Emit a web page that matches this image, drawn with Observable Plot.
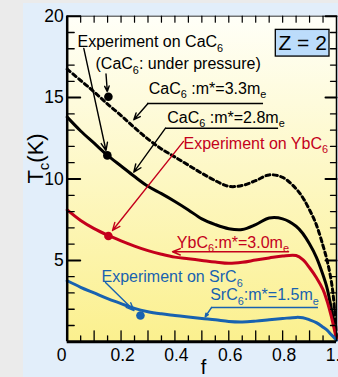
<!DOCTYPE html>
<html>
<head>
<meta charset="utf-8">
<script src="https://cdn.jsdelivr.net/npm/d3@7"></script>
<script src="https://cdn.jsdelivr.net/npm/@observablehq/plot@0.6"></script>
<style>
  html, body { margin: 0; padding: 0; overflow: hidden; background: #ebebeb; }
  #wrap { position: relative; width: 338px; height: 377px; }
  #panel { position: absolute; left: 23px; top: 3px; right: 0; bottom: 0; background: #e2eefa; }
  #chart { position: absolute; left: 0; top: 0; }
</style>
</head>
<body>
<div id="wrap"><div id="panel"></div><div id="chart"></div></div>
<script>
// Superconducting Tc versus f (fraction), Z = 2, for three intercalated graphites.
const f = [0, 0.05, 0.1, 0.15, 0.2, 0.25, 0.3, 0.35, 0.4, 0.45, 0.5, 0.55, 0.6, 0.65,
           0.7, 0.75, 0.8, 0.85, 0.875, 0.9, 0.925, 0.95, 0.965, 0.98, 0.99, 1];
const tcCaC6m33 = [16.75, 16.05, 15.35, 14.6, 13.9, 13.15, 12.45, 11.85, 11.35, 10.85, 10.35, 9.9, 9.55, 9.6,
                   9.9, 10.25, 10.1, 9.4, 8.85, 8.1, 7.2, 5.9, 5.0, 3.8, 2.5, 0.2];
const tcCaC6m28 = [13.8, 12.95, 12.2, 11.45, 10.8, 10.15, 9.55, 9.1, 8.62, 8.1, 7.55, 7.2, 6.95, 6.9,
                   7.2, 7.6, 7.55, 7.1, 6.65, 6.0, 5.2, 4.1, 3.3, 2.1, 1.2, 0.2];
const tcYbC6m30 = [8.1, 7.45, 6.95, 6.55, 6.2, 5.88, 5.6, 5.38, 5.2, 5.1, 5.0, 4.9, 4.82, 4.88,
                   5.02, 5.15, 5.27, 5.3, 5.05, 4.55, 3.95, 3.2, 2.5, 1.6, 0.9, 0.15];
const tcSrC6m15 = [3.75, 3.35, 3.0, 2.65, 2.35, 2.05, 1.85, 1.72, 1.62, 1.52, 1.43, 1.35, 1.25, 1.22,
                   1.27, 1.35, 1.43, 1.5, 1.48, 1.35, 1.18, 0.9, 0.72, 0.45, 0.28, 0.1];

// Measured points
const expCompound = ["CaC6 (pressure)", "CaC6", "YbC6", "SrC6"];
const expF = [0.153, 0.149, 0.153, 0.272];
const expTc = [15.05, 11.45, 6.5, 1.62];

const xTickValues = [0, 0.2, 0.4, 0.6, 0.8, 1];
const xTickLabels = ["0", "0.2", "0.4", "0.6", "0.8", "1.0"];
const yTickValues = [5, 10, 15, 20];
const yTickLabels = ["5", "10", "15", "20"];

const BLACK = "#000000", RED = "#c4001c", BLUE = "#1862b0";
const FONT = "'Liberation Sans', Arial, Helvetica, sans-serif";

const rows = tc => f.map((x, i) => ({f: x, tc: tc[i]}));
const expRows = expF.map((x, i) => ({compound: expCompound[i], f: x, tc: expTc[i]}));
const expColor = {"CaC6 (pressure)": BLACK, "CaC6": BLACK, "YbC6": RED, "SrC6": BLUE};

// Inward tick marks drawn as short vectors
const tickShape = {draw(ctx, l) { ctx.moveTo(0, 0); ctx.lineTo(0, -l); }};
const ticks = (values, o) => Plot.vector(values, {anchor: "start", shape: tickShape, stroke: BLACK, ...o});
const range = (a, b, s) => d3.range(Math.round((b - a) / s) + 1).map(i => +(a + i * s).toFixed(4));
const yMinor = range(0, 20, 1).filter(v => v % 5 !== 0);
const xAll = range(0, 1, 0.05).filter(v => v > 0 && v < 1);
const xMajor = xAll.filter(v => Math.abs(v * 10 - Math.round(v * 10)) < 1e-6);
const xMinor = xAll.filter(v => !xMajor.includes(v));

// Annotation layout (f, Tc coordinates)
const labels = [
  {text: "Experiment on CaC_6", f: 0.0382, tc: 18.08, color: BLACK},
  {text: "(CaC_6: under pressure)", f: 0.1051, tc: 16.73, color: BLACK},
  {text: "CaC_6 :m*=3.3m_e", f: 0.303, tc: 15.25, color: BLACK},
  {text: "CaC_6 :m*=2.8m_e", f: 0.3713, tc: 13.47, color: BLACK},
  {text: "Experiment on YbC_6", f: 0.4319, tc: 11.87, color: RED},
  {text: "YbC_6:m*=3.0m_e", f: 0.407, tc: 5.79, color: RED},
  {text: "Experiment on SrC_6", f: 0.1274, tc: 3.685, color: BLUE},
  {text: "SrC_6:m*=1.5m_e", f: 0.531, tc: 2.555, color: BLUE}
];
const underlines = [
  {f1: 0.298, f2: 0.729, tc: 14.64, color: BLACK},
  {f1: 0.365, f2: 0.785, tc: 13.12, color: BLACK},
  {f1: 0.536, f2: 0.933, tc: 2.107, color: BLUE}
];
const pointers = [
  {f1: 0.300, tc1: 14.64, f2: 0.2473, tc2: 13.64, color: BLACK},
  {f1: 0.365, tc1: 13.12, f2: 0.2473, tc2: 10.42, color: BLACK},
  {f1: 0.0616, tc1: 18.02, f2: 0.144, tc2: 11.75, color: BLACK},
  {f1: 0.1441, tc1: 16.45, f2: 0.149, tc2: 15.37, color: BLACK},
  {f1: 0.4319, tc1: 12.31, f2: 0.1682, tc2: 6.84, color: RED},
  {f1: 0.822, tc1: 5.53, f2: 0.391, tc2: 5.53, color: RED},
  {f1: 0.1422, tc1: 3.64, f2: 0.248, tc2: 1.92, color: BLUE},
  {f1: 0.536, tc1: 2.107, f2: 0.5124, tc2: 1.536, color: BLUE}
];
const zBox = {f1: 0.7746, f2: 0.974, tc1: 17.52, tc2: 19.16, text: "Z = 2"};

const plot = Plot.plot({
  width: 338,
  height: 377,
  marginLeft: 66.7,
  marginRight: 2,
  marginTop: 15.7,
  marginBottom: 35.7,
  style: {fontFamily: FONT, background: "transparent", overflow: "hidden"},
  x: {domain: [0, 1], axis: null},
  y: {domain: [0, 20], axis: null},
  marks: [
    Plot.frame({fill: "#fffbd0", stroke: null}),

    // curves
    Plot.line(rows(tcCaC6m33), {x: "f", y: "tc", curve: "catmull-rom", stroke: BLACK, strokeWidth: 3, strokeDasharray: "4,3.5"}),
    Plot.line(rows(tcCaC6m28), {x: "f", y: "tc", curve: "catmull-rom", stroke: BLACK, strokeWidth: 3}),
    Plot.line(rows(tcYbC6m30), {x: "f", y: "tc", curve: "catmull-rom", stroke: RED, strokeWidth: 3}),
    Plot.line(rows(tcSrC6m15), {x: "f", y: "tc", curve: "catmull-rom", stroke: BLUE, strokeWidth: 3}),

    // experiments
    Plot.dot(expRows, {x: "f", y: "tc", r: 4.3, fill: d => expColor[d.compound], stroke: null}),

    // annotations
    Plot.ruleY(underlines, {x1: "f1", x2: "f2", y: "tc", stroke: "color", strokeWidth: 1.6}),
    Plot.arrow(pointers, {x1: "f1", y1: "tc1", x2: "f2", y2: "tc2", stroke: "color", strokeWidth: 1.4, headLength: 9, headAngle: 45}),
    Plot.text(labels, {x: "f", y: "tc", text: "text", fill: "color", textAnchor: "start", lineAnchor: "bottom", fontSize: 16}),
    Plot.rect([zBox], {x1: "f1", x2: "f2", y1: "tc1", y2: "tc2", fill: "#bcdcfb", stroke: BLACK, strokeWidth: 1.3}),
    Plot.text([zBox], {x: d => (d.f1 + d.f2) / 2, y: d => (d.tc1 + d.tc2) / 2, text: "text", fontSize: 21, fill: BLACK}),

    // frame spines
    Plot.ruleY([20], {stroke: "#333", strokeWidth: 1}),
    Plot.ruleX([1], {stroke: BLACK, strokeWidth: 1.5}),
    Plot.ruleX([0], {stroke: BLACK, strokeWidth: 2.5}),
    Plot.ruleY([0], {stroke: BLACK, strokeWidth: 3}),

    // ticks
    ticks(yMinor, {x: 0, y: d => d, rotate: 90, length: 7, strokeWidth: 1.3}),
    ticks(yTickValues, {x: 0, y: d => d, rotate: 90, length: 13, strokeWidth: 2}),
    ticks(yMinor, {x: 1, y: d => d, rotate: -90, length: 6, strokeWidth: 1.3}),
    ticks(yTickValues, {x: 1, y: d => d, rotate: -90, length: 11, strokeWidth: 2}),
    ticks(xMajor, {x: d => d, y: 0, rotate: 0, length: 11, strokeWidth: 1.3}),
    ticks(xMinor, {x: d => d, y: 0, rotate: 0, length: 6, strokeWidth: 1.3}),
    ticks(xAll, {x: d => d, y: 20, rotate: 180, length: 6, strokeWidth: 1.2}),

    // tick labels
    Plot.text(yTickValues, {y: d => d, frameAnchor: "left", dx: -3.5, textAnchor: "end", lineAnchor: "middle", text: (d, i) => yTickLabels[i], fontSize: 17.5}),
    Plot.text(xTickValues.slice(1), {x: d => d, frameAnchor: "bottom", textAnchor: "middle", lineAnchor: "bottom", dx: 1.5, dy: 19.5, text: (d, i) => xTickLabels[i + 1], fontSize: 17.5}),
    Plot.text(xTickValues.slice(0, 1), {x: d => d, frameAnchor: "bottom", textAnchor: "middle", lineAnchor: "bottom", dx: -5.7, dy: 19.5, text: (d, i) => xTickLabels[i], fontSize: 17.5}),

    // axis titles
    Plot.text(["T_c(K)"], {frameAnchor: "left", y: 11.26, dx: -31.7, rotate: -90, textAnchor: "middle", lineAnchor: "middle", text: d => d, fontSize: 22}),
    Plot.text(["f"], {frameAnchor: "bottom", x: 0.506, dy: 32, textAnchor: "middle", lineAnchor: "bottom", text: d => d, fontSize: 20})
  ]
});

document.getElementById("chart").append(plot);

// Yellow gradient inside the plotting frame
const svg = d3.select(plot.tagName.toLowerCase() === "svg" ? plot : plot.querySelector("svg"));
const grad = svg.insert("defs", ":first-child").append("linearGradient")
  .attr("id", "frameGradient").attr("x1", 0).attr("y1", 0).attr("x2", 0).attr("y2", 1);
grad.append("stop").attr("offset", "0%").attr("stop-color", "#fffff8");
grad.append("stop").attr("offset", "100%").attr("stop-color", "#fbf08e");
svg.selectAll('[aria-label="frame"], [aria-label="frame"] rect').attr("fill", "url(#frameGradient)");

// Subscripts written as "_x" become lowered, smaller tspans
svg.selectAll("text").each(function() {
  const s = this.textContent;
  if (!s.includes("_")) return;
  const fs = parseFloat(getComputedStyle(this).fontSize) || 16;
  const shift = fs * 0.3;
  const parts = [];
  for (let i = 0; i < s.length; i++) {
    if (s[i] === "_" && i + 1 < s.length) { parts.push({t: s[i + 1], sub: true}); i++; }
    else if (parts.length && !parts[parts.length - 1].sub) parts[parts.length - 1].t += s[i];
    else parts.push({t: s[i], sub: false});
  }
  this.textContent = "";
  let offset = 0;
  for (const p of parts) {
    const ts = d3.select(this).append("tspan").text(p.t);
    const target = p.sub ? shift : 0;
    if (target !== offset) ts.attr("dy", target - offset);
    offset = target;
    if (p.sub) ts.attr("font-size", fs * 0.68);
  }
});
</script>
</body>
</html>
